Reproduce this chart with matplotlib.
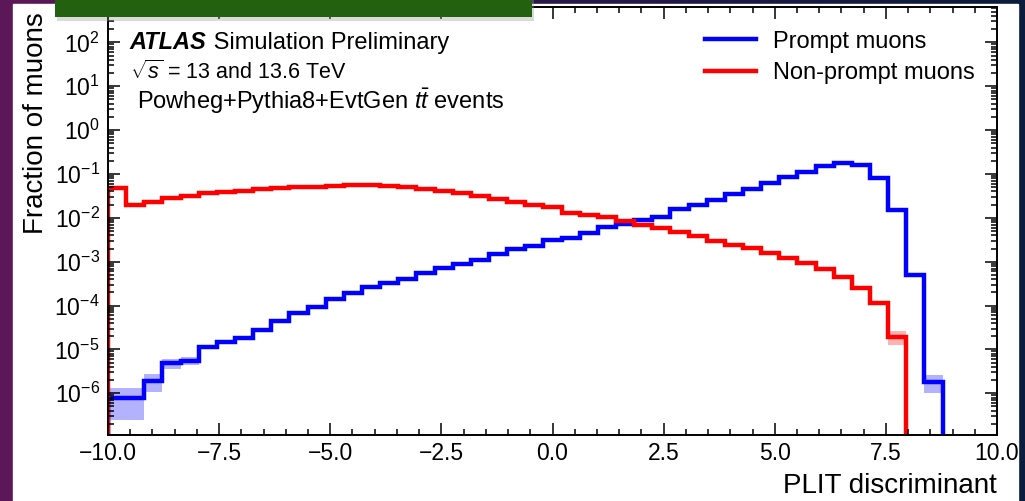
import numpy as np
import matplotlib
matplotlib.use("Agg")
import matplotlib.pyplot as plt
from matplotlib.patches import Rectangle
from matplotlib.lines import Line2D
from matplotlib.ticker import MultipleLocator, LogLocator, NullFormatter
from matplotlib.colors import LinearSegmentedColormap

plt.rcParams['font.family'] = ['Liberation Sans', 'DejaVu Sans']
plt.rcParams['mathtext.fontset'] = 'custom'
plt.rcParams['mathtext.rm'] = 'Liberation Sans'
plt.rcParams['mathtext.it'] = 'Liberation Sans:italic'
plt.rcParams['mathtext.bf'] = 'Liberation Sans:bold'

# binning of the PLIT discriminant
bin_lo = -10.0
bin_hi = 10.0
n_bins = 49

# fraction of prompt muons per bin
prompt = [7.69e-7, 7.69e-7, 1.89e-6, 4.83e-6, 5.54e-6, 1.15e-5, 1.50e-5, 1.85e-5,
          2.77e-5, 4.52e-5, 6.67e-5, 9.42e-5, 1.39e-4, 1.91e-4, 2.61e-4, 3.32e-4,
          4.08e-4, 5.53e-4, 7.08e-4, 9.02e-4, 1.11e-3, 1.50e-3, 1.92e-3, 2.28e-3,
          3.13e-3, 3.42e-3, 4.59e-3, 6.10e-3, 7.24e-3, 8.93e-3, 1.06e-2, 1.57e-2,
          1.96e-2, 2.55e-2, 3.50e-2, 4.55e-2, 6.14e-2, 8.41e-2, 0.113, 0.152,
          0.175, 0.160, 0.0798, 0.0151, 4.98e-4, 1.81e-6, 0.0, 0.0, 0.0]
# relative stat. uncertainty
prompt_err = [0.68, 0.68, 0.42, 0.24, 0.22, 0.12, 0.10, 0.09,
              0.08, 0.07, 0.06, 0.05, 0.05, 0.04, 0.04, 0.035,
              0.03, 0.03, 0.025, 0.025, 0.02, 0.02, 0.02, 0.015,
              0.015, 0.015, 0.01, 0.01, 0.01, 0.01, 0.01, 0.01,
              0.01, 0.01, 0.01, 0.01, 0.01, 0.01, 0.01, 0.01,
              0.01, 0.01, 0.01, 0.01, 0.04, 0.43, 0.0, 0.0, 0.0]

# fraction of non-prompt muons per bin
nonprompt = [0.0472, 0.0196, 0.0234, 0.0279, 0.0315, 0.0363, 0.0383, 0.0416,
             0.0448, 0.0472, 0.0498, 0.0513, 0.0541, 0.0552, 0.0561, 0.0541,
             0.0492, 0.0450, 0.0405, 0.0363, 0.0318, 0.0269, 0.0234, 0.0196,
             0.0180, 0.0127, 0.0116, 0.0106, 0.00848, 0.00687, 0.00578, 0.00469,
             0.00392, 0.00301, 0.00241, 0.00202, 0.00161, 0.00120, 9.21e-4, 6.72e-4,
             4.55e-4, 2.48e-4, 1.16e-4, 1.95e-5, 0.0, 0.0, 0.0, 0.0, 0.0]
nonprompt_err = [0.01, 0.01, 0.01, 0.01, 0.01, 0.01, 0.01, 0.01,
                 0.01, 0.01, 0.01, 0.01, 0.01, 0.01, 0.01, 0.01,
                 0.01, 0.01, 0.01, 0.01, 0.01, 0.01, 0.01, 0.01,
                 0.01, 0.01, 0.01, 0.01, 0.01, 0.01, 0.015, 0.015,
                 0.015, 0.015, 0.02, 0.02, 0.02, 0.02, 0.025, 0.03,
                 0.04, 0.05, 0.08, 0.35, 0.0, 0.0, 0.0, 0.0, 0.0]

labels = ["Prompt muons", "Non-prompt muons"]
colors = ["#0000ff", "#ff0000"]
band_colors = [(0, 0, 1, 0.3), (1, 0, 0, 0.3)]

edges = np.linspace(bin_lo, bin_hi, n_bins + 1)

W, H = 1025, 501
fig = plt.figure(figsize=(W / 100, H / 100), dpi=100)

# slide background
bg = fig.add_axes([0, 0, 1, 1], zorder=-10)
bg.imshow(np.linspace(0, 1, 256)[None, :], aspect='auto', extent=[0, 1, 0, 1],
          cmap=LinearSegmentedColormap.from_list('bg', ['#5c1759', '#2c1a4a', '#0c1c3c']))
bg.axis('off')
fig.add_artist(Rectangle((13 / W, 0), (1018 - 13) / W, (H - 4) / H,
                         transform=fig.transFigure, color='white', zorder=-5))
fig.add_artist(Rectangle((57 / W, 1 - 21 / H), (534 - 57) / W, 21 / H,
                         transform=fig.transFigure, color='#999999', alpha=0.35, lw=0, zorder=9))
fig.add_artist(Rectangle((55 / W, 1 - 17 / H), (532 - 55) / W, 17 / H,
                         transform=fig.transFigure, color='#23600f', lw=0, zorder=10))

ax = fig.add_axes([108 / W, 1 - 435 / H, 889 / W, 428 / H])
ax.set_yscale('log')

for vals, errs, c, bc in [(prompt, prompt_err, colors[0], band_colors[0]),
                          (nonprompt, nonprompt_err, colors[1], band_colors[1])]:
    v = np.array(vals)
    e = np.array(errs)
    n = np.max(np.nonzero(v)) + 1
    ax.stairs((v * (1 + e))[:n], edges[:n + 1], baseline=(v * (1 - e))[:n],
              fill=True, color=bc, lw=0)

for vals, c in [(prompt, colors[0]), (nonprompt, colors[1])]:
    v = np.array(vals)
    n = np.max(np.nonzero(v)) + 1
    ax.stairs(v[:n], edges[:n + 1], baseline=1e-12, color=c, lw=3.2,
              joinstyle='miter', capstyle='butt')

ax.set_xlim(bin_lo, bin_hi)
ax.set_ylim(1.12e-7, 641)

ax.xaxis.set_major_locator(MultipleLocator(2.5))
ax.xaxis.set_minor_locator(MultipleLocator(0.5))
ax.yaxis.set_major_locator(LogLocator(base=10, numticks=30))
ax.yaxis.set_minor_locator(LogLocator(base=10, subs=np.arange(2, 10), numticks=300))
ax.yaxis.set_minor_formatter(NullFormatter())

ax.tick_params(which='both', direction='in', top=True, right=True, width=1.1)
ax.tick_params(which='major', length=8.6, labelsize=16.5)
ax.tick_params(which='minor', length=4.3)
ax.tick_params(axis='y', which='major', pad=6)
ax.tick_params(axis='x', which='major', pad=5)
for s in ax.spines.values():
    s.set_linewidth(1.4)

ax.set_xlabel("PLIT discriminant", fontsize=20, loc='right')
ax.xaxis.set_label_coords(1.0, -0.089)
ax.set_ylabel("Fraction of muons", fontsize=20, loc='top')
ax.yaxis.set_label_coords(-0.0664, 0.988)

t = ax.text(0.0247, 0.918, "ATLAS", transform=ax.transAxes, fontsize=17,
            fontweight='bold', fontstyle='italic', va='center')
ax.annotate(" Simulation Preliminary", xy=(1, 0), xycoords=t, fontsize=17,
            va='bottom')
ax.text(0.0247, 0.848, r"$\sqrt{s}$ = 13 and 13.6 TeV", transform=ax.transAxes,
        fontsize=15.5, va='center')
ax.text(0.0326, 0.780, r"Powheg+Pythia8+EvtGen $t\bar{t}$ events",
        transform=ax.transAxes, fontsize=17, va='center')

handles = [Line2D([], [], color=c, lw=3.2) for c in colors]
ax.legend(handles, labels, loc='upper left', bbox_to_anchor=(0.6715, 0.945),
          frameon=False, fontsize=17, handlelength=2.16, handletextpad=0.72,
          labelspacing=0.42, borderpad=0, borderaxespad=0)

fig.savefig("out.png", dpi=100)
